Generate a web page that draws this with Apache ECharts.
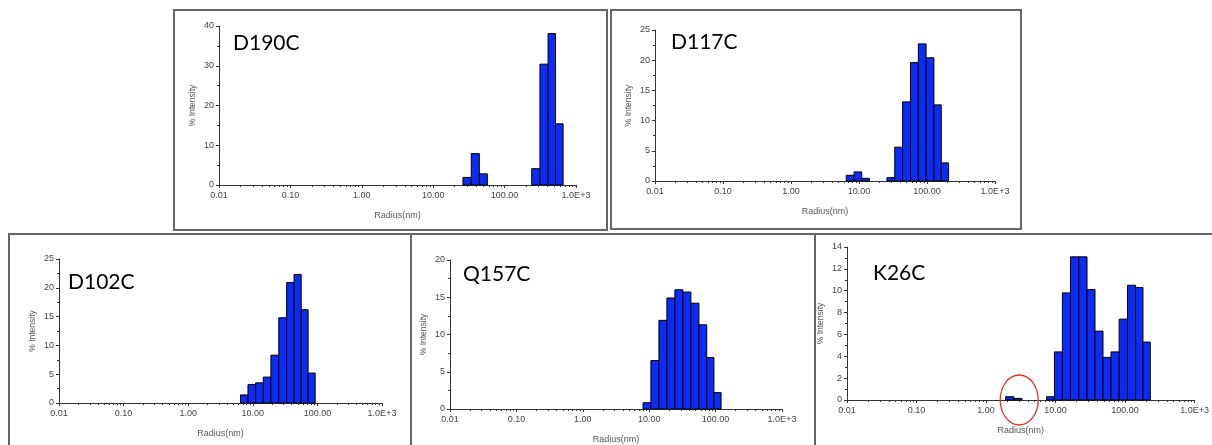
<!DOCTYPE html>
<html>
<head>
<meta charset="utf-8">
<script src="https://cdn.jsdelivr.net/npm/echarts@6/dist/echarts.min.js"></script>
<style>
html, body { margin: 0; padding: 0; background: #fff; }
#chart { width: 1212px; height: 445px; }
</style>
</head>
<body>
<div id="chart"></div>
<script>
// sample names, one per panel
var names = ['D190C', 'D117C', 'D102C', 'Q157C', 'K26C']

// bin centre radius (nm) and % intensity
var d190cRadius = [29.8, 39.0, 50.2, 273.5, 357.3, 461.3, 578.1]
var d190cIntensity = [1.9, 7.9, 2.8, 4.1, 30.4, 38.1, 15.4]

var d117cRadius = [7.41, 9.66, 12.45, 29.4, 38.3, 50.0, 65.5, 84.9, 110.7, 144.2, 182.0]
var d117cIntensity = [0.94, 1.5, 0.44, 0.55, 5.6, 13.1, 19.6, 22.7, 20.4, 12.6, 3.0]

var d102cRadius = [7.36, 9.62, 12.7, 16.6, 21.9, 29.1, 38.3, 49.4, 63.8, 80.9]
var d102cIntensity = [1.4, 3.2, 3.5, 4.5, 8.3, 14.8, 20.9, 22.3, 16.2, 5.2]

var q157cRadius = [9.23, 12.2, 16.1, 21.2, 28.0, 37.0, 48.8, 64.4, 84.1, 105.9]
var q157cIntensity = [0.84, 6.5, 11.9, 14.9, 16.0, 15.7, 14.2, 11.3, 6.9, 2.2]

var k26cRadius = [2.18, 2.88, 8.45, 11.0, 14.3, 18.8, 24.8, 32.4, 42.1, 55.0, 71.6, 94.2, 124.2, 161.8, 201.8]
var k26cIntensity = [0.3, 0.15, 0.3, 4.4, 9.8, 13.1, 13.1, 10.1, 6.3, 3.9, 4.4, 7.4, 10.5, 10.3, 5.3]

// the circled low-radius peak in K26C (radius nm, intensity)
var k26cCircled = [3.0, 0]

// y axis ranges
var yMax = [40, 25, 25, 20, 14]
var yStep = [10, 5, 5, 5, 2]

// x axis range (log)
var xMin = 0.01
var xMax = 1000

var radii = [d190cRadius, d117cRadius, d102cRadius, q157cRadius, k26cRadius]
var intensities = [d190cIntensity, d117cIntensity, d102cIntensity, q157cIntensity, k26cIntensity]

// width of one histogram bin, in decades
var BIN = 0.115

// layout of the five boxes (pixels)
var panels = [
  {box: [174, 10, 433, 220], grid: {left: 219, top: 26, width: 357, height: 159}, title: [233, 43]},
  {box: [611, 10, 410, 219], grid: {left: 655, top: 30, width: 340, height: 151}, title: [671, 42]},
  {box: [9, 234, 402, 222], grid: {left: 59, top: 259, width: 323, height: 144}, title: [68, 282]},
  {box: [411, 234, 404, 222], grid: {left: 450, top: 260, width: 332, height: 151}, title: [463, 274]},
  {box: [815, 234, 410, 222], grid: {left: 847, top: 247, width: 348, height: 153}, title: [873, 273]}
]

var labelFont = 'Liberation Sans, Arial, sans-serif'
var barBlue = '#0a2cf5'

// bin edges: half way to the neighbouring bin, or half a bin if it has none
function binData(rs, vs) {
  var logs = rs.map(function (r) { return Math.log10(r) })
  return rs.map(function (r, i) {
    var c = logs[i]
    var lo = c - BIN / 2
    var hi = c + BIN / 2
    if (i > 0 && c - logs[i - 1] < BIN * 1.6) lo = (c + logs[i - 1]) / 2
    if (i < rs.length - 1 && logs[i + 1] - c < BIN * 1.6) hi = (c + logs[i + 1]) / 2
    return [r, vs[i], Math.pow(10, lo), Math.pow(10, hi)]
  })
}

function renderBar(params, api) {
  var v = api.value(1)
  var p1 = api.coord([api.value(2), v])
  var p2 = api.coord([api.value(3), 0])
  return {
    type: 'rect',
    shape: {x: p1[0], y: p1[1], width: p2[0] - p1[0], height: p2[1] - p1[1]},
    style: {fill: barBlue, stroke: '#000', lineWidth: 1}
  }
}

function renderCircle(params, api) {
  var p = api.coord([api.value(0), api.value(1)])
  return {
    type: 'ellipse',
    shape: {cx: p[0], cy: p[1], rx: 19, ry: 25},
    style: {fill: 'none', stroke: '#e8302a', lineWidth: 1.3}
  }
}

function xLabel(v) {
  if (v >= 1000) return '1.0E+3'
  return v.toFixed(2)
}

var grids = [], xAxes = [], yAxes = [], series = [], graphics = []

panels.forEach(function (p, i) {
  grids.push(p.grid)
  xAxes.push({
    type: 'log',
    logBase: 10,
    gridIndex: i,
    min: xMin,
    max: xMax,
    name: 'Radius(nm)',
    nameLocation: 'middle',
    nameGap: 26,
    nameTextStyle: {fontFamily: labelFont, fontSize: 9, color: '#555'},
    axisLine: {lineStyle: {color: '#333', width: 1}},
    axisTick: {show: true, length: 3, lineStyle: {color: '#333'}},
    minorTick: {show: true, splitNumber: 9, length: 2, lineStyle: {color: '#333'}},
    splitLine: {show: false},
    minorSplitLine: {show: false},
    axisLabel: {fontFamily: labelFont, fontSize: 9, color: '#444', margin: 6, formatter: xLabel}
  })
  yAxes.push({
    type: 'value',
    gridIndex: i,
    min: 0,
    max: yMax[i],
    interval: yStep[i],
    name: '% Intensity',
    nameLocation: 'middle',
    nameGap: 22,
    nameTextStyle: {fontFamily: labelFont, fontSize: 8.5, color: '#555'},
    axisLine: {show: true, lineStyle: {color: '#333', width: 1}},
    axisTick: {show: true, length: 3, lineStyle: {color: '#333'}},
    minorTick: {show: true, splitNumber: 2, length: 2, lineStyle: {color: '#333'}},
    splitLine: {show: false},
    axisLabel: {fontFamily: labelFont, fontSize: 9, color: '#444', margin: 5}
  })
  series.push({
    type: 'custom',
    name: names[i],
    xAxisIndex: i,
    yAxisIndex: i,
    renderItem: renderBar,
    encode: {x: 0, y: 1},
    data: binData(radii[i], intensities[i]),
    silent: true
  })
  graphics.push({
    type: 'rect',
    shape: {x: p.box[0], y: p.box[1], width: p.box[2], height: p.box[3]},
    style: {fill: 'none', stroke: '#666', lineWidth: 2},
    z: 10
  })
  graphics.push({
    type: 'text',
    x: p.title[0],
    y: p.title[1],
    style: {text: names[i], fontFamily: 'Lato, sans-serif', fontSize: 21, fill: '#000', verticalAlign: 'middle'}
  })
})

series.push({
  type: 'custom',
  xAxisIndex: 4,
  yAxisIndex: 4,
  renderItem: renderCircle,
  encode: {x: 0, y: 1},
  data: [k26cCircled],
  silent: true,
  z: 5
})

var chart = echarts.init(document.getElementById('chart'))
chart.setOption({
  animation: false,
  backgroundColor: '#fff',
  grid: grids,
  xAxis: xAxes,
  yAxis: yAxes,
  series: series,
  graphic: graphics
})
</script>
</body>
</html>
